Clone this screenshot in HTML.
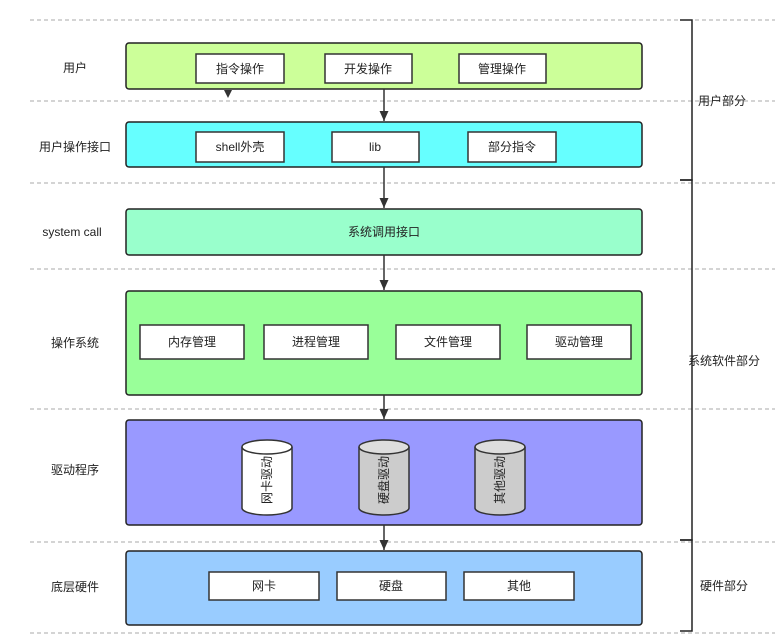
<!DOCTYPE html>
<html><head><meta charset="utf-8"><style>
html,body{margin:0;padding:0;background:#fff;}
text{font-family:"Liberation Sans","Noto Sans CJK SC",sans-serif;font-size:12px;fill:#222;}
</style></head><body>
<svg width="775" height="639" viewBox="0 0 775 639" xmlns="http://www.w3.org/2000/svg">
<defs><marker id="a" markerWidth="10" markerHeight="10" refX="10" refY="4.5" orient="auto" markerUnits="userSpaceOnUse"><path d="M0,0 L10,4.5 L0,9 z" fill="#333"/></marker></defs>
<g stroke="#aaa" stroke-dasharray="4,3" stroke-width="1">
<line x1="30" y1="20" x2="775" y2="20"/><line x1="30" y1="101" x2="775" y2="101"/>
<line x1="30" y1="183" x2="775" y2="183"/><line x1="30" y1="269" x2="775" y2="269"/>
<line x1="30" y1="409" x2="775" y2="409"/><line x1="30" y1="542" x2="775" y2="542"/>
<line x1="30" y1="633" x2="775" y2="633"/></g>
<g stroke="#222" stroke-width="1.5" fill="none">
<path d="M680,20 H692 V180 H680"/><path d="M680,180 H692 V540 H680"/><path d="M680,540 H692 V631 H680"/></g>
<text x="722" y="105" text-anchor="middle">用户部分</text>
<text x="724" y="365" text-anchor="middle">系统软件部分</text>
<text x="724" y="590" text-anchor="middle">硬件部分</text>
<g text-anchor="middle">
<text x="75" y="72">用户</text><text x="75" y="151">用户操作接口</text>
<text x="72" y="236">system call</text><text x="75" y="347">操作系统</text>
<text x="75" y="474">驱动程序</text><text x="75" y="591">底层硬件</text></g>
<g stroke="#222" stroke-width="1.5">
<rect x="126" y="43" width="516" height="46" rx="3" fill="#ccff99"/>
<rect x="126" y="122" width="516" height="45" rx="3" fill="#66ffff"/>
<rect x="126" y="209" width="516" height="46" rx="3" fill="#99ffcc"/>
<rect x="126" y="291" width="516" height="104" rx="3" fill="#99ff99"/>
<rect x="126" y="420" width="516" height="105" rx="3" fill="#9999ff"/>
<rect x="126" y="551" width="516" height="74" rx="3" fill="#99ccff"/>
</g>
<g stroke="#333" stroke-width="1.5" fill="#fff">
<rect x="196" y="54" width="88" height="29"/><rect x="325" y="54" width="87" height="29"/><rect x="459" y="54" width="87" height="29"/>
<rect x="196" y="132" width="88" height="30"/><rect x="332" y="132" width="87" height="30"/><rect x="468" y="132" width="88" height="30"/>
<rect x="140" y="325" width="104" height="34"/><rect x="264" y="325" width="104" height="34"/><rect x="396" y="325" width="104" height="34"/><rect x="527" y="325" width="104" height="34"/>
<rect x="209" y="572" width="110" height="28"/><rect x="337" y="572" width="109" height="28"/><rect x="464" y="572" width="110" height="28"/>
</g>
<g text-anchor="middle">
<text x="240" y="73">指令操作</text><text x="368" y="73">开发操作</text><text x="502" y="73">管理操作</text>
<text x="240" y="151">shell外壳</text><text x="375" y="151">lib</text><text x="512" y="151">部分指令</text>
<text x="384" y="236">系统调用接口</text>
<text x="192" y="346">内存管理</text><text x="316" y="346">进程管理</text><text x="448" y="346">文件管理</text><text x="579" y="346">驱动管理</text>
<text x="264" y="590">网卡</text><text x="391" y="590">硬盘</text><text x="519" y="590">其他</text>
</g>
<g stroke="#333" stroke-width="1.5">
<path d="M242,447 V508 A25,7 0 0 0 292,508 V447" fill="#fff"/><ellipse cx="267" cy="447" rx="25" ry="7" fill="#fff"/>
<path d="M359,447 V508 A25,7 0 0 0 409,508 V447" fill="#ccc"/><ellipse cx="384" cy="447" rx="25" ry="7" fill="#ddd"/>
<path d="M475,447 V508 A25,7 0 0 0 525,508 V447" fill="#ccc"/><ellipse cx="500" cy="447" rx="25" ry="7" fill="#ddd"/>
</g>
<g text-anchor="middle">
<text transform="translate(271,480) rotate(-90)">网卡驱动</text>
<text transform="translate(388,480) rotate(-90)">硬盘驱动</text>
<text transform="translate(504,480) rotate(-90)">其他驱动</text></g>
<g stroke="#333" stroke-width="1.5" marker-end="url(#a)">
<line x1="384" y1="89" x2="384" y2="121"/><line x1="384" y1="167" x2="384" y2="208"/>
<line x1="384" y1="255" x2="384" y2="290"/><line x1="384" y1="395" x2="384" y2="419"/>
<line x1="384" y1="525" x2="384" y2="550"/></g>
<path d="M224,90 L232,90 L228,98 z" fill="#333"/>
</svg>
</body></html>
